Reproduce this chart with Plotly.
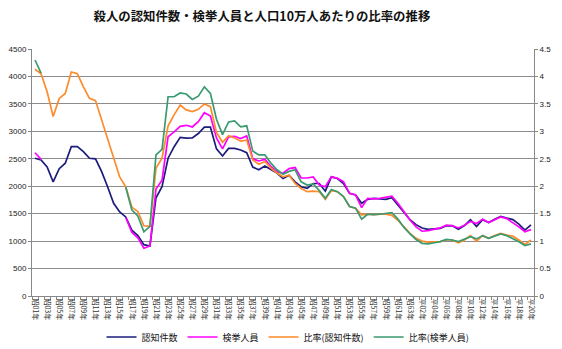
import plotly.graph_objects as go

# Categories: 昭和01年 .. 昭和63年, 平成01年 .. 平成20年
categories = [f"昭{n:02d}年" for n in range(1, 64)] + [f"平{n:02d}年" for n in range(1, 21)]

# 認知件数 (left axis)
ninchi = [2510, 2480, 2350, 2080, 2320, 2420, 2720, 2720, 2630, 2510,
          2500, 2270, 1990, 1690, 1530, 1440, 1200, 1100, 935, 910,
          1790, 1990, 2510, 2720, 2890, 2875, 2880, 2960, 3075, 3075,
          2680, 2550, 2690, 2690, 2660, 2610, 2350, 2300, 2370, 2300,
          2240, 2140, 2200, 2080, 1990, 1960, 2050, 2050, 1910, 2170,
          2140, 2050, 1870, 1840, 1690, 1760, 1780, 1770, 1760, 1790,
          1660, 1540, 1390, 1300, 1238, 1215, 1227, 1233, 1279, 1281,
          1218, 1284, 1388, 1265, 1391, 1340, 1396, 1452, 1419, 1392,
          1309, 1199, 1297]

# 検挙人員 (left axis)
kenkyo = [2610, 2490, None, None, None, None, None, None, None, None,
          None, None, None, None, None, 1430, 1160, 1060, 870, 911,
          1950, 2110, 2900, 2990, 3090, 3110, 3080, 3176, 3340, 3280,
          2880, 2680, 2900, 2910, 2870, 2915, 2500, 2460, 2490, 2360,
          2265, 2236, 2320, 2340, 2150, 2150, 2170, 2020, 1990, 2174,
          2144, 2083, 1871, 1840, 1610, 1780, 1770, 1780, 1800, 1820,
          1690, 1536, 1385, 1260, 1180, 1190, 1210, 1240, 1290, 1280,
          1240, 1290, 1360, 1320, 1400, 1340, 1390, 1440, 1410, 1340,
          1260, 1170, 1210]

# 比率(認知件数) per 100k (right axis)
rate_ninchi = [4.13, 4.05, 3.72, 3.27, 3.60, 3.69, 4.08, 4.05, 3.81, 3.60,
               3.56, 3.21, 2.84, 2.48, 2.17, 1.99, 1.62, 1.54, 1.28, 1.27,
               2.33, 2.51, 3.10, 3.30, 3.48, 3.39, 3.36, 3.40, 3.50, 3.45,
               2.98, 2.80, 2.92, 2.88, 2.82, 2.84, 2.48, 2.40, 2.45, 2.33,
               2.24, 2.17, 2.20, 2.05, 1.96, 1.90, 1.91, 1.90, 1.76, 1.92,
               1.90, 1.81, 1.63, 1.60, 1.48, 1.49, 1.48, 1.49, 1.49, 1.47,
               1.38, 1.26, 1.14, 1.05, 1.00, 0.98, 0.99, 0.99, 1.02, 1.02,
               0.97, 1.02, 1.10, 1.00, 1.10, 1.05, 1.10, 1.14, 1.11, 1.09,
               1.02, 0.94, 1.02]

# 比率(検挙人員) per 100k (right axis)
rate_kenkyo = [4.30, 4.06, None, None, None, None, None, None, None, None,
               None, None, None, None, None, 1.98, 1.57, 1.46, 1.17, 1.27,
               2.57, 2.67, 3.63, 3.63, 3.70, 3.68, 3.58, 3.64, 3.81, 3.69,
               3.22, 2.94, 3.17, 3.19, 3.08, 3.10, 2.64, 2.57, 2.57, 2.42,
               2.30, 2.22, 2.27, 2.30, 2.08, 2.02, 2.04, 1.92, 1.78, 1.94,
               1.90, 1.81, 1.63, 1.60, 1.40, 1.49, 1.48, 1.49, 1.50, 1.52,
               1.40, 1.25, 1.13, 1.03, 0.96, 0.95, 0.97, 0.99, 1.03, 1.02,
               0.99, 1.03, 1.08, 1.04, 1.10, 1.05, 1.09, 1.13, 1.10, 1.05,
               0.99, 0.92, 0.95]

series_names = ["認知件数", "検挙人員", "比率(認知件数)", "比率(検挙人員)"]
colors = ["#1C1C7C", "#FF00FF", "#FF8A2A", "#3A9A70"]

xs = list(range(len(categories)))
fig = go.Figure()
fig.add_trace(go.Scatter(x=xs, y=ninchi, name=series_names[0], mode="lines",
                         line=dict(color=colors[0], width=1.7), yaxis="y"))
fig.add_trace(go.Scatter(x=xs, y=kenkyo, name=series_names[1], mode="lines",
                         line=dict(color=colors[1], width=1.7), yaxis="y"))
fig.add_trace(go.Scatter(x=xs, y=rate_ninchi, name=series_names[2], mode="lines",
                         line=dict(color=colors[2], width=1.7), yaxis="y2"))
fig.add_trace(go.Scatter(x=xs, y=rate_kenkyo, name=series_names[3], mode="lines",
                         line=dict(color=colors[3], width=1.7), yaxis="y2"))

jp = "Noto Sans CJK JP"
tick_font = dict(family="Liberation Sans, Arial", size=8, color="#222")

fig.update_layout(
    width=562, height=349,
    margin=dict(l=32, r=28, t=49, b=53, autoexpand=False),
    paper_bgcolor="white", plot_bgcolor="white",
    title=dict(text="<b>殺人の認知件数・検挙人員と人口10万人あたりの比率の推移</b>",
               x=0.466, xanchor="center", y=0.951, yanchor="middle",
               font=dict(family=jp, size=12.4, color="#111")),
    xaxis=dict(range=[-0.5, len(categories) - 0.5], automargin=False,
               tickmode="array", tickvals=xs[::2], ticktext=categories[::2],
               tickangle=90, tickfont=dict(family=jp, size=7, color="#333"),
               ticks="", showgrid=False, zeroline=False,
               showline=True, linecolor="#888", linewidth=1,
               minor=dict(tickmode="array",
                          tickvals=[i - 0.5 for i in range(len(categories) + 1)],
                          ticks="outside", ticklen=3, tickcolor="#888", showgrid=False)),
    yaxis=dict(range=[0, 4500], dtick=500, tickfont=tick_font, automargin=False,
               showgrid=True, gridcolor="#8c8c8c", gridwidth=1, zeroline=False,
               showline=True, linecolor="#888", linewidth=1,
               ticks="outside", ticklen=3, tickcolor="#888"),
    yaxis2=dict(range=[0, 4.5], dtick=0.5, overlaying="y", side="right",
                tickfont=tick_font, showgrid=False, zeroline=False, automargin=False,
                showline=True, linecolor="#888", linewidth=1,
                ticks="outside", ticklen=3, tickcolor="#888"),
    showlegend=True,
    legend=dict(orientation="h", x=0.51, xanchor="center",
                yref="container", y=1 - 337 / 349, yanchor="middle",
                font=dict(family=jp, size=9, color="#111"),
                bgcolor="rgba(0,0,0,0)", itemwidth=30, tracegroupgap=0),
)

fig.write_html("out.html")
